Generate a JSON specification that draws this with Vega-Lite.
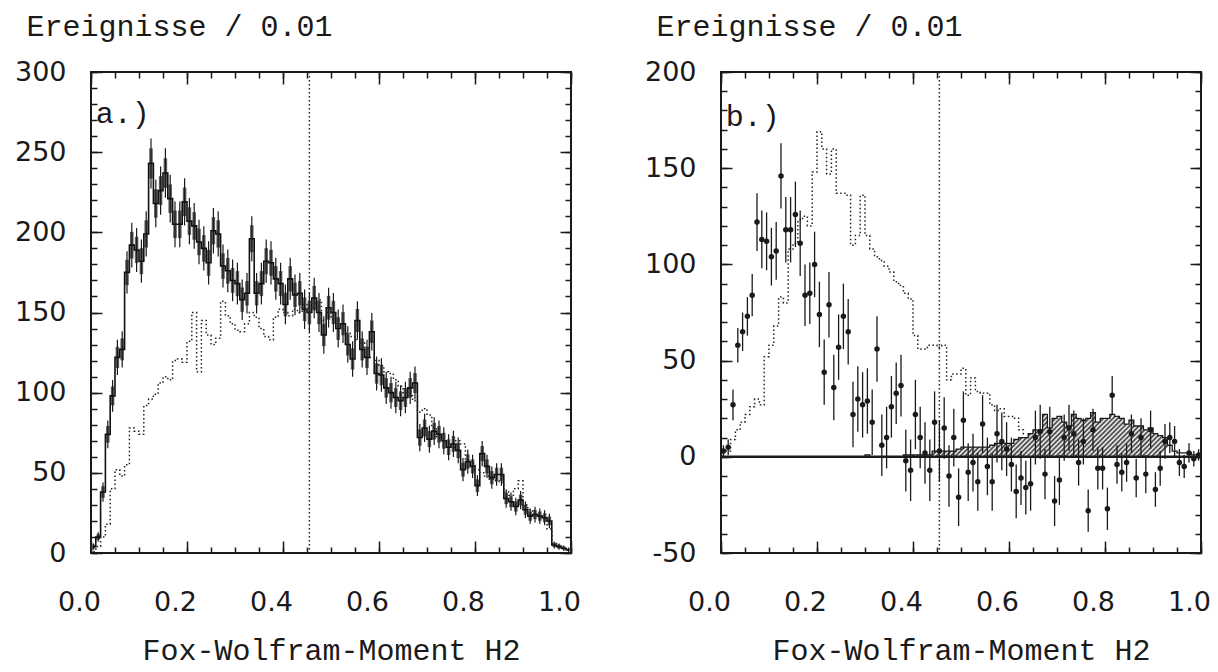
{
"$schema": "https://vega.github.io/schema/vega-lite/v6.json",
"background": "white",
"padding": {"left": 13, "top": 10, "right": 5, "bottom": 8},
"spacing": 150,
"bounds": "flush",
"config": {
  "view": {"stroke": "#1a1a1a", "strokeWidth": 2},
  "axis": {"domain": false, "grid": false, "tickColor": "#1a1a1a", "tickWidth": 1.5, "labelColor": "#1a1a1a", "titleColor": "#1a1a1a", "labelFlush": false, "labelOverlap": false, "labelBound": false}
},
"hconcat": [
{
  "width": 480, "height": 481,
  "data": {"values": [
{"x":0.005,"v":4,"e":2,"b":1.2,"m":1},{"x":0.015,"v":10,"e":3,"b":1.8,"m":4},{"x":0.025,"v":38,"e":6,"b":3.6,"m":10},{"x":0.035,"v":74,"e":8.6,"b":5.2,"m":18},{"x":0.045,"v":98,"e":9.9,"b":5.9,"m":40},
{"x":0.055,"v":122,"e":11,"b":6.6,"m":52},{"x":0.065,"v":127,"e":11.3,"b":6.8,"m":48},{"x":0.075,"v":175,"e":13.2,"b":7.9,"m":55},{"x":0.085,"v":192,"e":13.9,"b":8.3,"m":78},{"x":0.095,"v":189,"e":13.7,"b":8.2,"m":76},
{"x":0.105,"v":182,"e":13.5,"b":8.1,"m":74},{"x":0.115,"v":199,"e":14.1,"b":8.5,"m":92},{"x":0.125,"v":243,"e":15.6,"b":9.4,"m":96},{"x":0.135,"v":218,"e":14.8,"b":8.9,"m":99},{"x":0.145,"v":226,"e":15,"b":9,"m":106},
{"x":0.155,"v":237,"e":15.4,"b":9.2,"m":110},{"x":0.165,"v":221,"e":14.9,"b":8.9,"m":108},{"x":0.175,"v":205,"e":14.3,"b":8.6,"m":120},{"x":0.185,"v":205,"e":14.3,"b":8.6,"m":121},{"x":0.195,"v":219,"e":14.8,"b":8.9,"m":119},
{"x":0.205,"v":207,"e":14.4,"b":8.6,"m":132},{"x":0.215,"v":204,"e":14.3,"b":8.6,"m":150},{"x":0.225,"v":194,"e":13.9,"b":8.3,"m":113},{"x":0.235,"v":190,"e":13.8,"b":8.3,"m":145},{"x":0.245,"v":181,"e":13.5,"b":8.1,"m":136},
{"x":0.255,"v":201,"e":14.2,"b":8.5,"m":130},{"x":0.265,"v":199,"e":14.1,"b":8.5,"m":134},{"x":0.275,"v":179,"e":13.4,"b":8,"m":157},{"x":0.285,"v":176,"e":13.3,"b":8,"m":148},{"x":0.295,"v":170,"e":13,"b":7.8,"m":143},
{"x":0.305,"v":168,"e":13,"b":7.8,"m":139},{"x":0.315,"v":158,"e":12.6,"b":7.6,"m":138},{"x":0.325,"v":162,"e":12.7,"b":7.6,"m":143},{"x":0.335,"v":196,"e":14,"b":8.4,"m":150},{"x":0.345,"v":162,"e":12.7,"b":7.6,"m":147},
{"x":0.355,"v":168,"e":13,"b":7.8,"m":140},{"x":0.365,"v":182,"e":13.5,"b":8.1,"m":135},{"x":0.375,"v":181,"e":13.5,"b":8.1,"m":133},{"x":0.385,"v":171,"e":13.1,"b":7.9,"m":147},{"x":0.395,"v":168,"e":13,"b":7.8,"m":152},
{"x":0.405,"v":155,"e":12.4,"b":7.4,"m":150},{"x":0.415,"v":171,"e":13.1,"b":7.9,"m":148},{"x":0.425,"v":161,"e":12.7,"b":7.6,"m":152},{"x":0.435,"v":162,"e":12.7,"b":7.6,"m":150},{"x":0.445,"v":152,"e":12.3,"b":7.4,"m":155},
{"x":0.455,"v":150,"e":12.2,"b":7.3,"m":153},{"x":0.465,"v":159,"e":12.6,"b":7.6,"m":156},{"x":0.475,"v":150,"e":12.2,"b":7.3,"m":158},{"x":0.485,"v":136,"e":11.7,"b":7,"m":145},{"x":0.495,"v":153,"e":12.4,"b":7.4,"m":150},
{"x":0.505,"v":150,"e":12.2,"b":7.3,"m":146},{"x":0.515,"v":140,"e":11.8,"b":7.1,"m":142},{"x":0.525,"v":143,"e":12,"b":7.2,"m":140},{"x":0.535,"v":130,"e":11.4,"b":6.8,"m":137},{"x":0.545,"v":121,"e":11,"b":6.6,"m":135},
{"x":0.555,"v":145,"e":12,"b":7.2,"m":133},{"x":0.565,"v":127,"e":11.3,"b":6.8,"m":131},{"x":0.575,"v":122,"e":11,"b":6.6,"m":128},{"x":0.585,"v":138,"e":11.7,"b":7,"m":122},{"x":0.595,"v":112,"e":10.6,"b":6.4,"m":120},
{"x":0.605,"v":111,"e":10.5,"b":6.3,"m":117},{"x":0.615,"v":103,"e":10.1,"b":6.1,"m":113},{"x":0.625,"v":100,"e":10,"b":6,"m":112},{"x":0.635,"v":97,"e":9.8,"b":5.9,"m":108},{"x":0.645,"v":95,"e":9.7,"b":5.8,"m":104},
{"x":0.655,"v":97,"e":9.8,"b":5.9,"m":100},{"x":0.665,"v":103,"e":10.1,"b":6.1,"m":98},{"x":0.675,"v":106,"e":10.3,"b":6.2,"m":95},{"x":0.685,"v":72,"e":8.5,"b":5.1,"m":88},{"x":0.695,"v":78,"e":8.8,"b":5.3,"m":90},
{"x":0.705,"v":71,"e":8.4,"b":5,"m":86},{"x":0.715,"v":76,"e":8.7,"b":5.2,"m":78},{"x":0.725,"v":74,"e":8.6,"b":5.2,"m":72},{"x":0.735,"v":70,"e":8.4,"b":5,"m":70},{"x":0.745,"v":66,"e":8.1,"b":4.9,"m":68},
{"x":0.755,"v":68,"e":8.2,"b":4.9,"m":66},{"x":0.765,"v":64,"e":8,"b":4.8,"m":70},{"x":0.775,"v":52,"e":7.2,"b":4.3,"m":68},{"x":0.785,"v":57,"e":7.5,"b":4.5,"m":58},{"x":0.795,"v":54,"e":7.3,"b":4.4,"m":56},
{"x":0.805,"v":42,"e":6.5,"b":3.9,"m":52},{"x":0.815,"v":62,"e":7.9,"b":4.7,"m":50},{"x":0.825,"v":54,"e":7.3,"b":4.4,"m":48},{"x":0.835,"v":47,"e":6.9,"b":4.1,"m":46},{"x":0.845,"v":49,"e":7,"b":4.2,"m":45},
{"x":0.855,"v":49,"e":7,"b":4.2,"m":44},{"x":0.865,"v":34,"e":5.8,"b":3.5,"m":38},{"x":0.875,"v":32,"e":5.7,"b":3.4,"m":36},{"x":0.885,"v":29,"e":5.4,"b":3.2,"m":40},{"x":0.895,"v":33,"e":5.7,"b":3.4,"m":45},
{"x":0.905,"v":27,"e":5.2,"b":3.1,"m":30},{"x":0.915,"v":23,"e":4.8,"b":2.9,"m":27},{"x":0.925,"v":24,"e":4.9,"b":2.9,"m":25},{"x":0.935,"v":23,"e":4.8,"b":2.9,"m":23},{"x":0.945,"v":22,"e":4.7,"b":2.8,"m":21},
{"x":0.955,"v":20,"e":4.5,"b":2.7,"m":15},{"x":0.965,"v":5,"e":2.2,"b":1.3,"m":6},{"x":0.975,"v":4,"e":2,"b":1.2,"m":5},{"x":0.985,"v":3,"e":1.7,"b":1,"m":3},{"x":0.995,"v":2,"e":1.4,"b":0.8,"m":2}
  ]},
  "resolve": {"axis": {"x": "independent", "y": "independent"}},
  "layer": [
    {"mark": {"type": "errorbar", "color": "#5a5a5a", "thickness": 3.5},
     "encoding": {
       "x": {"field": "x", "type": "quantitative", "axis": null},
       "y": {"field": "v", "type": "quantitative", "axis": null},
       "yError": {"field": "b"}}},
    {"mark": {"type": "errorbar", "color": "#1a1a1a", "thickness": 1.2},
     "encoding": {
       "x": {"field": "x", "type": "quantitative", "axis": null},
       "y": {"field": "v", "type": "quantitative", "axis": null},
       "yError": {"field": "e"}}},
    {"mark": {"type": "line", "interpolate": "step", "color": "#111", "strokeWidth": 1.6},
     "encoding": {
       "x": {"field": "x", "type": "quantitative", "scale": {"domain": [0, 1], "nice": false, "zero": false},
             "axis": {"orient": "bottom", "values": [0, 0.2, 0.4, 0.6, 0.8, 1], "format": ".1f", "tickSize": -12,
                      "labelFont": "DejaVu Sans", "labelFontSize": 27, "labelPadding": 48, "labelOffset": -12,
                      "title": "Fox-Wolfram-Moment H2", "titleFont": "Liberation Mono", "titleFontSize": 30, "titleFontWeight": "normal",
                      "titleX": 240, "titleY": 106, "titleBaseline": "alphabetic", "titleAlign": "center"}},
       "y": {"field": "v", "type": "quantitative", "scale": {"domain": [0, 300], "nice": false, "zero": false},
             "axis": {"orient": "left", "values": [0, 50, 100, 150, 200, 250, 300], "tickSize": -11,
                      "labelFont": "DejaVu Sans", "labelFontSize": 27, "labelPadding": 36,
                      "title": "Ereignisse / 0.01", "titleFont": "Liberation Mono", "titleFontSize": 30, "titleFontWeight": "normal",
                      "titleAngle": 0, "titleAlign": "left", "titleBaseline": "alphabetic", "titleX": -65, "titleY": -37}}}},
    {"mark": {"type": "line", "interpolate": "step", "color": "#222", "strokeWidth": 1.5, "strokeDash": [1.5, 2.5]},
     "encoding": {
       "x": {"field": "x", "type": "quantitative",
             "axis": {"orient": "bottom", "values": [0,0.05,0.1,0.15,0.2,0.25,0.3,0.35,0.4,0.45,0.5,0.55,0.6,0.65,0.7,0.75,0.8,0.85,0.9,0.95,1], "tickSize": -6, "labels": false, "title": null}},
       "y": {"field": "m", "type": "quantitative",
             "axis": {"orient": "left", "values": [0,10,20,30,40,50,60,70,80,90,100,110,120,130,140,150,160,170,180,190,200,210,220,230,240,250,260,270,280,290,300], "tickSize": -6, "labels": false, "title": null}}}},
    {"data": {"values": [{}]},
     "mark": {"type": "rule", "color": "#222", "strokeWidth": 1.5, "strokeDash": [1.5, 2.5]},
     "encoding": {
       "x": {"datum": 0.455, "type": "quantitative",
             "axis": {"orient": "top", "values": [0, 0.2, 0.4, 0.6, 0.8, 1], "tickSize": -12, "labels": false, "title": null}}}},
    {"data": {"values": [{}]},
     "mark": {"type": "rule", "color": "#1a1a1a", "strokeWidth": 1},
     "encoding": {
       "y": {"datum": 0, "type": "quantitative",
             "axis": {"orient": "right", "values": [0,10,20,30,40,50,60,70,80,90,100,110,120,130,140,150,160,170,180,190,200,210,220,230,240,250,260,270,280,290,300], "tickSize": -6, "labels": false, "title": null}}}},
    {"data": {"values": [{}]},
     "mark": {"type": "text", "font": "Liberation Mono", "fontSize": 30, "align": "left", "baseline": "alphabetic", "color": "#1a1a1a"},
     "encoding": {
       "text": {"value": "a.)"},
       "x": {"datum": 0.01, "type": "quantitative",
             "axis": {"orient": "top", "values": [0,0.05,0.1,0.15,0.2,0.25,0.3,0.35,0.4,0.45,0.5,0.55,0.6,0.65,0.7,0.75,0.8,0.85,0.9,0.95,1], "tickSize": -6, "labels": false, "title": null}},
       "y": {"datum": 268, "type": "quantitative",
             "axis": {"orient": "right", "values": [0, 50, 100, 150, 200, 250, 300], "tickSize": -11, "labels": false, "title": null}}}}
  ]
},
{
  "width": 480, "height": 481,
  "data": {"values": [
{"x":0.005,"p":3,"pe":3,"d":2,"h":0},{"x":0.015,"p":5,"pe":4,"d":3,"h":0},{"x":0.025,"p":27,"pe":8,"d":9,"h":0},{"x":0.035,"p":58,"pe":9,"d":14,"h":0},{"x":0.045,"p":65,"pe":10,"d":18,"h":0},
{"x":0.055,"p":73,"pe":10,"d":22,"h":0},{"x":0.065,"p":84,"pe":11,"d":26,"h":0},{"x":0.075,"p":122,"pe":15,"d":30,"h":0},{"x":0.085,"p":113,"pe":15,"d":27,"h":0},{"x":0.095,"p":112,"pe":15,"d":52,"h":0},
{"x":0.105,"p":104,"pe":15,"d":58,"h":0},{"x":0.115,"p":107,"pe":15,"d":68,"h":0},{"x":0.125,"p":146,"pe":17,"d":83,"h":0},{"x":0.135,"p":118,"pe":17,"d":80,"h":0},{"x":0.145,"p":118,"pe":17,"d":108,"h":0},
{"x":0.155,"p":126,"pe":17,"d":111,"h":0},{"x":0.165,"p":111,"pe":17,"d":123,"h":0},{"x":0.175,"p":84,"pe":16,"d":125,"h":0},{"x":0.185,"p":85,"pe":16,"d":120,"h":0},{"x":0.195,"p":100,"pe":17,"d":148,"h":0},
{"x":0.205,"p":74,"pe":17,"d":169,"h":0},{"x":0.215,"p":44,"pe":17,"d":160,"h":0},{"x":0.225,"p":79,"pe":17,"d":147,"h":0},{"x":0.235,"p":36,"pe":17,"d":160,"h":0},{"x":0.245,"p":57,"pe":17,"d":137,"h":0},
{"x":0.255,"p":73,"pe":17,"d":137,"h":0},{"x":0.265,"p":65,"pe":17,"d":136,"h":0},{"x":0.275,"p":22,"pe":17,"d":110,"h":0},{"x":0.285,"p":30,"pe":17,"d":115,"h":0},{"x":0.295,"p":27,"pe":17,"d":136,"h":0},
{"x":0.305,"p":29,"pe":17,"d":115,"h":1},{"x":0.315,"p":18,"pe":17,"d":108,"h":0},{"x":0.325,"p":56,"pe":17,"d":104,"h":0},{"x":0.335,"p":6,"pe":16,"d":102,"h":0},{"x":0.345,"p":10,"pe":16,"d":99,"h":0},
{"x":0.355,"p":26,"pe":16,"d":96,"h":0},{"x":0.365,"p":33,"pe":16,"d":91,"h":0},{"x":0.375,"p":37,"pe":16,"d":89,"h":0},{"x":0.385,"p":-2,"pe":16,"d":85,"h":1},{"x":0.395,"p":-7,"pe":16,"d":82,"h":1},
{"x":0.405,"p":22,"pe":18,"d":63,"h":1},{"x":0.415,"p":10,"pe":16,"d":56,"h":1},{"x":0.425,"p":2,"pe":16,"d":56,"h":1},{"x":0.435,"p":-7,"pe":16,"d":58,"h":1},{"x":0.445,"p":18,"pe":16,"d":58,"h":3},
{"x":0.455,"p":3,"pe":16,"d":57,"h":3},{"x":0.465,"p":15,"pe":16,"d":58,"h":3},{"x":0.475,"p":-10,"pe":16,"d":40,"h":3},{"x":0.485,"p":10,"pe":15,"d":43,"h":3},{"x":0.495,"p":-21,"pe":15,"d":43,"h":4},
{"x":0.505,"p":19,"pe":15,"d":46,"h":5},{"x":0.515,"p":-8,"pe":15,"d":32,"h":5},{"x":0.525,"p":-3,"pe":15,"d":41,"h":5},{"x":0.535,"p":-13,"pe":15,"d":34,"h":5},{"x":0.545,"p":17,"pe":15,"d":33,"h":5},
{"x":0.555,"p":-5,"pe":15,"d":33,"h":5},{"x":0.565,"p":-13,"pe":15,"d":27,"h":6},{"x":0.575,"p":12,"pe":15,"d":24,"h":7},{"x":0.585,"p":8,"pe":15,"d":25,"h":7},{"x":0.595,"p":4,"pe":14,"d":21,"h":7},
{"x":0.605,"p":-4,"pe":14,"d":21,"h":7},{"x":0.615,"p":-18,"pe":14,"d":20,"h":9},{"x":0.625,"p":-11,"pe":14,"d":14,"h":10},{"x":0.635,"p":-16,"pe":14,"d":12,"h":10},{"x":0.645,"p":-14,"pe":14,"h":12},
{"x":0.655,"p":10,"pe":14,"h":14},{"x":0.665,"p":13,"pe":14,"h":14},{"x":0.675,"p":-9,"pe":13,"h":22},{"x":0.685,"p":13,"pe":13,"h":15},{"x":0.695,"p":-23,"pe":13,"h":20},
{"x":0.705,"p":-12,"pe":13,"h":21},{"x":0.715,"p":10,"pe":12,"h":18},{"x":0.725,"p":15,"pe":12,"h":16},{"x":0.735,"p":12,"pe":12,"h":22},{"x":0.745,"p":-3,"pe":12,"h":20},
{"x":0.755,"p":8,"pe":12,"h":19},{"x":0.765,"p":-28,"pe":11,"h":20},{"x":0.775,"p":14,"pe":11,"h":23},{"x":0.785,"p":-6,"pe":11,"h":18},{"x":0.795,"p":-6,"pe":11,"h":20},
{"x":0.805,"p":-27,"pe":11,"h":20},{"x":0.815,"p":32,"pe":10,"h":22},{"x":0.825,"p":-4,"pe":10,"h":21},{"x":0.835,"p":-8,"pe":10,"h":20},{"x":0.845,"p":-3,"pe":10,"h":17},
{"x":0.855,"p":12,"pe":10,"h":19},{"x":0.865,"p":-11,"pe":10,"h":16},{"x":0.875,"p":10,"pe":10,"h":16},{"x":0.885,"p":-9,"pe":10,"h":14},{"x":0.895,"p":14,"pe":10,"h":15},
{"x":0.905,"p":-17,"pe":9,"h":12},{"x":0.915,"p":-6,"pe":9,"h":11},{"x":0.925,"p":8,"pe":9,"h":10},{"x":0.935,"p":10,"pe":8,"h":6},{"x":0.945,"p":8,"pe":8,"h":3},
{"x":0.955,"p":-3,"pe":7,"h":2},{"x":0.965,"p":-5,"pe":6,"h":2},{"x":0.975,"p":2,"pe":5,"h":2},{"x":0.985,"p":-1,"pe":4,"h":1},{"x":0.995,"p":1,"pe":3,"h":1}
  ]},
  "resolve": {"axis": {"x": "independent", "y": "independent"}},
  "layer": [
    {"mark": {"type": "area", "interpolate": "step", "fillOpacity": 1,
              "fill": {"gradient": "linear", "x1": 0, "y1": 0, "x2": 1, "y2": 0.093, "stops": [
{"offset":0,"color":"#fff"},{"offset":0.005,"color":"#333"},{"offset":0.01,"color":"#fff"},{"offset":0.015,"color":"#333"},{"offset":0.02,"color":"#fff"},{"offset":0.025,"color":"#333"},{"offset":0.03,"color":"#fff"},{"offset":0.035,"color":"#333"},{"offset":0.04,"color":"#fff"},{"offset":0.045,"color":"#333"},
{"offset":0.05,"color":"#fff"},{"offset":0.055,"color":"#333"},{"offset":0.06,"color":"#fff"},{"offset":0.065,"color":"#333"},{"offset":0.07,"color":"#fff"},{"offset":0.075,"color":"#333"},{"offset":0.08,"color":"#fff"},{"offset":0.085,"color":"#333"},{"offset":0.09,"color":"#fff"},{"offset":0.095,"color":"#333"},
{"offset":0.1,"color":"#fff"},{"offset":0.105,"color":"#333"},{"offset":0.11,"color":"#fff"},{"offset":0.115,"color":"#333"},{"offset":0.12,"color":"#fff"},{"offset":0.125,"color":"#333"},{"offset":0.13,"color":"#fff"},{"offset":0.135,"color":"#333"},{"offset":0.14,"color":"#fff"},{"offset":0.145,"color":"#333"},
{"offset":0.15,"color":"#fff"},{"offset":0.155,"color":"#333"},{"offset":0.16,"color":"#fff"},{"offset":0.165,"color":"#333"},{"offset":0.17,"color":"#fff"},{"offset":0.175,"color":"#333"},{"offset":0.18,"color":"#fff"},{"offset":0.185,"color":"#333"},{"offset":0.19,"color":"#fff"},{"offset":0.195,"color":"#333"},
{"offset":0.2,"color":"#fff"},{"offset":0.205,"color":"#333"},{"offset":0.21,"color":"#fff"},{"offset":0.215,"color":"#333"},{"offset":0.22,"color":"#fff"},{"offset":0.225,"color":"#333"},{"offset":0.23,"color":"#fff"},{"offset":0.235,"color":"#333"},{"offset":0.24,"color":"#fff"},{"offset":0.245,"color":"#333"},
{"offset":0.25,"color":"#fff"},{"offset":0.255,"color":"#333"},{"offset":0.26,"color":"#fff"},{"offset":0.265,"color":"#333"},{"offset":0.27,"color":"#fff"},{"offset":0.275,"color":"#333"},{"offset":0.28,"color":"#fff"},{"offset":0.285,"color":"#333"},{"offset":0.29,"color":"#fff"},{"offset":0.295,"color":"#333"},
{"offset":0.3,"color":"#fff"},{"offset":0.305,"color":"#333"},{"offset":0.31,"color":"#fff"},{"offset":0.315,"color":"#333"},{"offset":0.32,"color":"#fff"},{"offset":0.325,"color":"#333"},{"offset":0.33,"color":"#fff"},{"offset":0.335,"color":"#333"},{"offset":0.34,"color":"#fff"},{"offset":0.345,"color":"#333"},
{"offset":0.35,"color":"#fff"},{"offset":0.355,"color":"#333"},{"offset":0.36,"color":"#fff"},{"offset":0.365,"color":"#333"},{"offset":0.37,"color":"#fff"},{"offset":0.375,"color":"#333"},{"offset":0.38,"color":"#fff"},{"offset":0.385,"color":"#333"},{"offset":0.39,"color":"#fff"},{"offset":0.395,"color":"#333"},
{"offset":0.4,"color":"#fff"},{"offset":0.405,"color":"#333"},{"offset":0.41,"color":"#fff"},{"offset":0.415,"color":"#333"},{"offset":0.42,"color":"#fff"},{"offset":0.425,"color":"#333"},{"offset":0.43,"color":"#fff"},{"offset":0.435,"color":"#333"},{"offset":0.44,"color":"#fff"},{"offset":0.445,"color":"#333"},
{"offset":0.45,"color":"#fff"},{"offset":0.455,"color":"#333"},{"offset":0.46,"color":"#fff"},{"offset":0.465,"color":"#333"},{"offset":0.47,"color":"#fff"},{"offset":0.475,"color":"#333"},{"offset":0.48,"color":"#fff"},{"offset":0.485,"color":"#333"},{"offset":0.49,"color":"#fff"},{"offset":0.495,"color":"#333"},
{"offset":0.5,"color":"#fff"},{"offset":0.505,"color":"#333"},{"offset":0.51,"color":"#fff"},{"offset":0.515,"color":"#333"},{"offset":0.52,"color":"#fff"},{"offset":0.525,"color":"#333"},{"offset":0.53,"color":"#fff"},{"offset":0.535,"color":"#333"},{"offset":0.54,"color":"#fff"},{"offset":0.545,"color":"#333"},
{"offset":0.55,"color":"#fff"},{"offset":0.555,"color":"#333"},{"offset":0.56,"color":"#fff"},{"offset":0.565,"color":"#333"},{"offset":0.57,"color":"#fff"},{"offset":0.575,"color":"#333"},{"offset":0.58,"color":"#fff"},{"offset":0.585,"color":"#333"},{"offset":0.59,"color":"#fff"},{"offset":0.595,"color":"#333"},
{"offset":0.6,"color":"#fff"},{"offset":0.605,"color":"#333"},{"offset":0.61,"color":"#fff"},{"offset":0.615,"color":"#333"},{"offset":0.62,"color":"#fff"},{"offset":0.625,"color":"#333"},{"offset":0.63,"color":"#fff"},{"offset":0.635,"color":"#333"},{"offset":0.64,"color":"#fff"},{"offset":0.645,"color":"#333"},
{"offset":0.65,"color":"#fff"},{"offset":0.655,"color":"#333"},{"offset":0.66,"color":"#fff"},{"offset":0.665,"color":"#333"},{"offset":0.67,"color":"#fff"},{"offset":0.675,"color":"#333"},{"offset":0.68,"color":"#fff"},{"offset":0.685,"color":"#333"},{"offset":0.69,"color":"#fff"},{"offset":0.695,"color":"#333"},
{"offset":0.7,"color":"#fff"},{"offset":0.705,"color":"#333"},{"offset":0.71,"color":"#fff"},{"offset":0.715,"color":"#333"},{"offset":0.72,"color":"#fff"},{"offset":0.725,"color":"#333"},{"offset":0.73,"color":"#fff"},{"offset":0.735,"color":"#333"},{"offset":0.74,"color":"#fff"},{"offset":0.745,"color":"#333"},
{"offset":0.75,"color":"#fff"},{"offset":0.755,"color":"#333"},{"offset":0.76,"color":"#fff"},{"offset":0.765,"color":"#333"},{"offset":0.77,"color":"#fff"},{"offset":0.775,"color":"#333"},{"offset":0.78,"color":"#fff"},{"offset":0.785,"color":"#333"},{"offset":0.79,"color":"#fff"},{"offset":0.795,"color":"#333"},
{"offset":0.8,"color":"#fff"},{"offset":0.805,"color":"#333"},{"offset":0.81,"color":"#fff"},{"offset":0.815,"color":"#333"},{"offset":0.82,"color":"#fff"},{"offset":0.825,"color":"#333"},{"offset":0.83,"color":"#fff"},{"offset":0.835,"color":"#333"},{"offset":0.84,"color":"#fff"},{"offset":0.845,"color":"#333"},
{"offset":0.85,"color":"#fff"},{"offset":0.855,"color":"#333"},{"offset":0.86,"color":"#fff"},{"offset":0.865,"color":"#333"},{"offset":0.87,"color":"#fff"},{"offset":0.875,"color":"#333"},{"offset":0.88,"color":"#fff"},{"offset":0.885,"color":"#333"},{"offset":0.89,"color":"#fff"},{"offset":0.895,"color":"#333"},
{"offset":0.9,"color":"#fff"},{"offset":0.905,"color":"#333"},{"offset":0.91,"color":"#fff"},{"offset":0.915,"color":"#333"},{"offset":0.92,"color":"#fff"},{"offset":0.925,"color":"#333"},{"offset":0.93,"color":"#fff"},{"offset":0.935,"color":"#333"},{"offset":0.94,"color":"#fff"},{"offset":0.945,"color":"#333"},
{"offset":0.95,"color":"#fff"},{"offset":0.955,"color":"#333"},{"offset":0.96,"color":"#fff"},{"offset":0.965,"color":"#333"},{"offset":0.97,"color":"#fff"},{"offset":0.975,"color":"#333"},{"offset":0.98,"color":"#fff"},{"offset":0.985,"color":"#333"},{"offset":0.99,"color":"#fff"},{"offset":0.995,"color":"#333"},
{"offset":1,"color":"#fff"}
              ]}},
     "encoding": {
       "x": {"field": "x", "type": "quantitative", "scale": {"domain": [0, 1], "nice": false, "zero": false},
             "axis": {"orient": "bottom", "values": [0, 0.2, 0.4, 0.6, 0.8, 1], "format": ".1f", "tickSize": -12,
                      "labelFont": "DejaVu Sans", "labelFontSize": 27, "labelPadding": 48, "labelOffset": -12,
                      "title": "Fox-Wolfram-Moment H2", "titleFont": "Liberation Mono", "titleFontSize": 30, "titleFontWeight": "normal",
                      "titleX": 240, "titleY": 106, "titleBaseline": "alphabetic", "titleAlign": "center"}},
       "y": {"field": "h", "type": "quantitative", "scale": {"domain": [-50, 200], "nice": false, "zero": false},
             "axis": {"orient": "left", "values": [-50, 0, 50, 100, 150, 200], "labelExpr": "'' + datum.value", "tickSize": -11,
                      "labelFont": "DejaVu Sans", "labelFontSize": 27, "labelPadding": 36,
                      "title": "Ereignisse / 0.01", "titleFont": "Liberation Mono", "titleFontSize": 30, "titleFontWeight": "normal",
                      "titleAngle": 0, "titleAlign": "left", "titleBaseline": "alphabetic", "titleX": -65, "titleY": -37}}}},
    {"mark": {"type": "line", "interpolate": "step", "color": "#1a1a1a", "strokeWidth": 1.3},
     "encoding": {
       "x": {"field": "x", "type": "quantitative", "axis": null},
       "y": {"field": "h", "type": "quantitative", "axis": null}}},
    {"mark": {"type": "line", "interpolate": "step", "color": "#222", "strokeWidth": 1.5, "strokeDash": [1.5, 2.5]},
     "encoding": {
       "x": {"field": "x", "type": "quantitative",
             "axis": {"orient": "bottom", "values": [0,0.05,0.1,0.15,0.2,0.25,0.3,0.35,0.4,0.45,0.5,0.55,0.6,0.65,0.7,0.75,0.8,0.85,0.9,0.95,1], "tickSize": -6, "labels": false, "title": null}},
       "y": {"field": "d", "type": "quantitative",
             "axis": {"orient": "left", "values": [-50,-40,-30,-20,-10,0,10,20,30,40,50,60,70,80,90,100,110,120,130,140,150,160,170,180,190,200], "tickSize": -6, "labels": false, "title": null}}}},
    {"data": {"values": [{}]},
     "mark": {"type": "rule", "color": "#1a1a1a", "strokeWidth": 2.5},
     "encoding": {
       "y": {"datum": 0, "type": "quantitative",
             "axis": {"orient": "right", "values": [-50, 0, 50, 100, 150, 200], "tickSize": -11, "labels": false, "title": null}}}},
    {"data": {"values": [{}]},
     "mark": {"type": "rule", "color": "#222", "strokeWidth": 1.5, "strokeDash": [1.5, 2.5]},
     "encoding": {
       "x": {"datum": 0.455, "type": "quantitative",
             "axis": {"orient": "top", "values": [0, 0.2, 0.4, 0.6, 0.8, 1], "tickSize": -12, "labels": false, "title": null}}}},
    {"mark": {"type": "errorbar", "color": "#1a1a1a", "thickness": 1.3},
     "encoding": {
       "x": {"field": "x", "type": "quantitative", "axis": null},
       "y": {"field": "p", "type": "quantitative", "axis": null},
       "yError": {"field": "pe"}}},
    {"mark": {"type": "point", "filled": true, "shape": "circle", "size": 30, "color": "#1a1a1a", "opacity": 1},
     "encoding": {
       "x": {"field": "x", "type": "quantitative",
             "axis": {"orient": "top", "values": [0,0.05,0.1,0.15,0.2,0.25,0.3,0.35,0.4,0.45,0.5,0.55,0.6,0.65,0.7,0.75,0.8,0.85,0.9,0.95,1], "tickSize": -6, "labels": false, "title": null}},
       "y": {"field": "p", "type": "quantitative",
             "axis": {"orient": "right", "values": [-50,-40,-30,-20,-10,0,10,20,30,40,50,60,70,80,90,100,110,120,130,140,150,160,170,180,190,200], "tickSize": -6, "labels": false, "title": null}}}},
    {"data": {"values": [{}]},
     "mark": {"type": "text", "font": "Liberation Mono", "fontSize": 30, "align": "left", "baseline": "alphabetic", "color": "#1a1a1a"},
     "encoding": {
       "text": {"value": "b.)"},
       "x": {"datum": 0.01, "type": "quantitative", "axis": null},
       "y": {"datum": 172, "type": "quantitative", "axis": null}}}
  ]
}
]
}
